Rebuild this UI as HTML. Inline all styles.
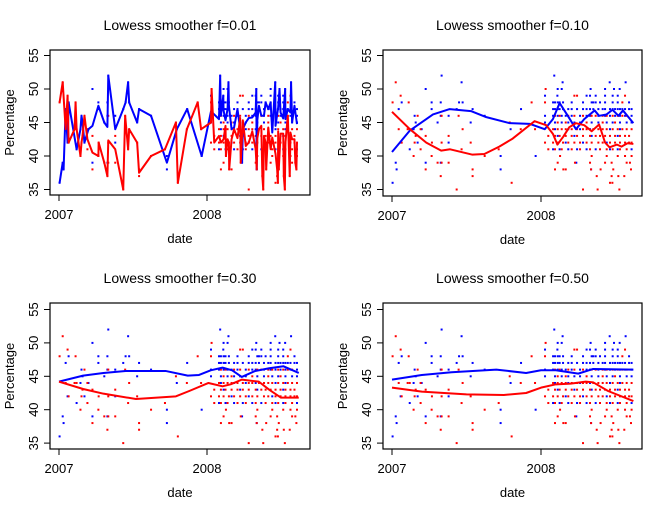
<!DOCTYPE html>
<html><head><meta charset="utf-8">
<style>
html,body{margin:0;padding:0;background:#fff;}
svg{display:block;font-family:"Liberation Sans",sans-serif;}
</style></head>
<body>
<svg id="chart" width="653" height="507" viewBox="0 0 653 507"></svg>
<script>
// Poll data: [date in years since 2007-01-01, percentage]
const bluePolls = [
[0.333,52],[0.467,51],[0.226,50],[0.065,48],[0.266,48],[0.327,48],[0.45,48],[0.474,48],[0.045,47],[0.266,47],[0.434,47],[0.541,47],[0.866,47],
[0.152,46],[0.327,46],[0.38,46],[0.622,46],[0.159,45],[0.306,45],[0.528,45],[0.145,44],[0.199,44],[0.796,44],[0.058,42],[0.172,42],[0.38,42],
[0.119,41],[0.729,40],[0.025,39],[0.226,39],[0.327,39],[0.031,38],[0.729,38],[0.004,36],[0.964,40],
[1.089,52],[1.145,51],[1.461,51],[1.568,51],[1.112,50],[1.139,50],[1.333,50],[1.43,50],[1.49,50],[1.528,50],
[1.027,49],[1.11,49],[1.306,49],[1.329,49],[1.367,49],[1.43,49],[1.481,49],[1.515,49],
[1.081,48],[1.094,48],[1.112,48],[1.125,48],[1.148,48],[1.206,48],[1.282,48],[1.34,48],[1.351,48],[1.367,48],[1.396,48],[1.43,48],[1.481,48],[1.515,48],[1.591,48],
[1.081,47],[1.094,47],[1.112,47],[1.125,47],[1.148,47],[1.183,47],[1.206,47],[1.242,47],[1.282,47],[1.306,47],[1.329,47],[1.351,47],[1.385,47],[1.414,47],[1.43,47],[1.463,47],[1.481,47],[1.497,47],[1.515,47],[1.53,47],[1.546,47],[1.564,47],[1.591,47],[1.608,47],
[1.027,46],[1.081,46],[1.112,46],[1.139,46],[1.166,46],[1.206,46],[1.262,46],[1.306,46],[1.329,46],[1.385,46],[1.43,46],[1.463,46],[1.497,46],[1.53,46],[1.564,46],[1.608,46],
[1.027,45],[1.094,45],[1.139,45],[1.183,45],[1.224,45],[1.262,45],[1.34,45],[1.385,45],[1.441,45],[1.481,45],[1.53,45],[1.575,45],[1.608,45],
[1.094,44],[1.183,44],[1.262,44],[1.329,44],[1.463,44],[1.53,44],
[1.112,43],[1.224,43],[1.34,43],[1.515,43],
[1.166,42],[1.282,42],[1.441,42],
[1.081,41],[1.125,41],[1.183,41],[1.242,41],[1.306,41],[1.367,41],[1.463,41],[1.515,41],[1.608,41],
[1.237,39],[1.336,38]
];
const redPolls = [
[0.025,51],[0.058,49],[0.004,48],[0.112,48],[0.937,48],[0.172,46],[0.333,46],[0.447,46],[0.79,45],[0.045,44],[0.105,44],[0.119,44],[0.192,44],
[0.474,44],[0.864,44],[0.159,43],[0.226,43],[0.38,43],[0.065,42],[0.152,42],[0.268,42],[0.333,42],[0.528,42],[0.192,41],[0.467,41],[0.716,41],
[0.145,40],[0.266,40],[0.622,40],[0.306,39],[0.333,39],[0.38,39],[0.226,38],[0.541,38],[0.327,37],[0.541,37],[0.803,36],[0.434,35],
[1.031,50],[1.224,49],[1.242,49],[1.564,49],[1.027,48],[1.546,48],
[1.094,46],[1.125,46],[1.183,46],[1.224,46],[1.282,46],[1.34,46],[1.367,46],[1.414,46],[1.441,46],[1.481,46],[1.515,46],[1.546,46],[1.575,46],
[1.112,45],[1.166,45],[1.306,45],[1.414,45],[1.497,45],
[0.96,44],[1.081,44],[1.112,44],[1.139,44],[1.166,44],[1.206,44],[1.242,44],[1.282,44],[1.306,44],[1.351,44],[1.385,44],[1.414,44],[1.441,44],[1.481,44],[1.515,44],[1.546,44],[1.575,44],[1.608,44],
[1.049,43],[1.094,43],[1.125,43],[1.166,43],[1.206,43],[1.242,43],[1.282,43],[1.329,43],[1.367,43],[1.396,43],[1.43,43],[1.463,43],[1.497,43],[1.53,43],[1.564,43],[1.591,43],
[1.027,42],[1.081,42],[1.112,42],[1.148,42],[1.183,42],[1.224,42],[1.262,42],[1.306,42],[1.34,42],[1.385,42],[1.414,42],[1.463,42],[1.497,42],[1.53,42],[1.564,42],[1.591,42],[1.608,42],
[1.049,41],[1.094,41],[1.139,41],[1.206,41],[1.262,41],[1.329,41],[1.396,41],[1.441,41],[1.481,41],[1.53,41],[1.575,41],
[1.128,40],[1.34,40],[1.441,40],[1.515,40],[1.564,40],[1.608,40],
[1.112,39],[1.228,39],[1.329,39],[1.43,39],[1.474,39],[1.575,39],[1.597,39],
[1.094,38],[1.15,38],[1.166,38],[1.336,38],[1.4,38],[1.485,38],[1.604,38],
[1.374,37],[1.474,37],[1.519,37],[1.559,37],[1.463,36],[1.479,36],[1.282,35],[1.38,35],[1.526,35]
];
// Smoothed curves
const smooth10Blue = [[0,40.6],[0.12,43.8],[0.275,46.2],[0.387,47],[0.53,46.7],[0.633,45.8],[0.79,44.9],[0.924,44.8],[1.025,44],[1.08,45.5],[1.125,47.9],[1.18,46],[1.235,44],[1.29,45.5],[1.36,46.8],[1.39,46],[1.44,46.2],[1.48,46.9],[1.52,46],[1.55,46.8],[1.62,44.9]];
const smooth10Red = [[0,46.6],[0.12,44],[0.23,42],[0.33,40.8],[0.39,41],[0.54,40.2],[0.62,40.3],[0.72,41.4],[0.81,42.6],[0.957,45.2],[1.035,44.6],[1.08,43.3],[1.11,41.7],[1.15,42.9],[1.19,44.3],[1.235,44.9],[1.29,44.6],[1.34,43.7],[1.39,44.7],[1.43,42],[1.46,41.3],[1.51,41.7],[1.54,41.4],[1.58,41.9],[1.62,41.8]];
const smooth30Blue = [[0,44.2],[0.163,45.1],[0.3,45.5],[0.45,45.8],[0.72,45.8],[0.87,45.1],[0.946,45.2],[1.025,45.9],[1.105,46.3],[1.17,45.9],[1.235,44.9],[1.326,45.8],[1.42,46.2],[1.517,46.5],[1.62,45.5]];
const smooth30Red = [[0,44.2],[0.163,43.1],[0.3,42.4],[0.52,41.6],[0.79,42],[0.88,42.8],[1.01,44],[1.105,43.5],[1.16,43.8],[1.235,44.5],[1.35,44.2],[1.42,43],[1.5,41.8],[1.62,41.8]];
const smooth50Blue = [[0,44.5],[0.2,45.2],[0.4,45.6],[0.7,46],[0.9,45.5],[1.0,45.9],[1.1,45.9],[1.25,45.4],[1.35,46.1],[1.62,46]];
const smooth50Red = [[0,43.3],[0.2,42.7],[0.5,42.3],[0.75,42.2],[0.9,42.5],[1.0,43.3],[1.1,43.8],[1.2,43.9],[1.3,44.2],[1.35,44.1],[1.45,42.8],[1.62,41.3]];
const yTicks = [35,40,45,50,55];
const xTickVals = [0,1];
const xTickLabels = ["2007","2008"];
const titles = ["Lowess smoother f=0.01","Lowess smoother f=0.10","Lowess smoother f=0.30","Lowess smoother f=0.50"];

const NS = "http://www.w3.org/2000/svg";
const svg = document.getElementById("chart");
function mk(tag, attrs, parent){
  const e = document.createElementNS(NS, tag);
  for (const k in attrs) e.setAttribute(k, attrs[k]);
  (parent||svg).appendChild(e);
  return e;
}
// per-date average for f=0.01 curve
function dateMeans(polls){
  const m = {};
  polls.forEach(p=>{const k=p[0].toFixed(3); (m[k]=m[k]||[]).push(p[1]);});
  return Object.keys(m).map(k=>[parseFloat(k), m[k].reduce((a,b)=>a+b,0)/m[k].length]).sort((a,b)=>a[0]-b[0]);
}
const panels = [
  {bx0:50,by0:50,bx1:310,by1:195,x0:59,xs:148,y55:55.5,ys:6.7,key:"f001",b:dateMeans(bluePolls),r:dateMeans(redPolls)},
  {bx0:383,by0:50,bx1:642,by1:196,x0:392,xs:149,y55:55.5,ys:6.7,key:"f010",b:smooth10Blue,r:smooth10Red},
  {bx0:50,by0:303,bx1:310,by1:449,x0:59,xs:148,y55:309.5,ys:6.68,key:"f030",b:smooth30Blue,r:smooth30Red},
  {bx0:383,by0:303,bx1:642,by1:449,x0:392,xs:149,y55:309.5,ys:6.68,key:"f050",b:smooth50Blue,r:smooth50Red}
];
panels.forEach((P,i)=>{
  const g = mk("g",{});
  
  
  const X = t => P.x0 + t*P.xs;
  const Y = v => P.y55 + (55-v)*P.ys;
  const cx = (P.bx0+P.bx1)/2, cy=(P.by0+P.by1)/2;
  const title = mk("text",{x:cx,y:P.by0-20,"text-anchor":"middle","font-size":"14"},g);
  title.textContent = titles[i];
  
  
  // points
  const pts = mk("g",{},g);
  
  
  bluePolls.forEach(p=>{
    const r = mk("rect",{x:X(p[0])-1,y:Y(p[1])-1,width:2,height:2,fill:"#0000ff"},pts);
    
    
  });
  redPolls.forEach(p=>{
    const r = mk("rect",{x:X(p[0])-1,y:Y(p[1])-1,width:2,height:2,fill:"#ff0000"},pts);
    
    
  });
  const lb = mk("polyline",{points:P.b.map(p=>X(p[0])+","+Y(p[1])).join(" "),fill:"none",stroke:"#0000ff","stroke-width":2,"stroke-linejoin":"round"},g);
  
  
  const lr = mk("polyline",{points:P.r.map(p=>X(p[0])+","+Y(p[1])).join(" "),fill:"none",stroke:"#ff0000","stroke-width":2,"stroke-linejoin":"round"},g);
  
  
  const box = mk("rect",{x:P.bx0,y:P.by0,width:P.bx1-P.bx0,height:P.by1-P.by0,fill:"none",stroke:"#000","stroke-width":1.2},g);
  
  
  // y axis
  const ya = mk("g",{},g);
  
  
  mk("line",{x1:P.bx0,x2:P.bx0,y1:Y(35),y2:Y(55),stroke:"#000"},ya);
  yTicks.forEach(v=>{
    mk("line",{x1:P.bx0-6,x2:P.bx0,y1:Y(v),y2:Y(v),stroke:"#000"},ya);
    const t = mk("text",{x:0,y:0,transform:`translate(${P.bx0-12},${Y(v)}) rotate(-90)`,"text-anchor":"middle","font-size":"13"},ya);
    t.textContent = v;
    
    
  });
  const yt = mk("text",{transform:`translate(${P.bx0-36},${cy}) rotate(-90)`,"text-anchor":"middle","font-size":"13"},g);
  yt.textContent = "Percentage";
  
  
  // x axis
  const xa = mk("g",{},g);
  
  
  xTickVals.forEach((t,j)=>{
    mk("line",{x1:X(t),x2:X(t),y1:P.by1,y2:P.by1+6,stroke:"#000"},xa);
    const tx = mk("text",{x:X(t),y:P.by1+24,"text-anchor":"middle","font-size":"13"},xa);
    tx.textContent = xTickLabels[j];
    
    
  });
  const xt = mk("text",{x:cx,y:P.by1+48,"text-anchor":"middle","font-size":"13"},g);
  xt.textContent = "date";
  
  
});
</script>
</body></html>
